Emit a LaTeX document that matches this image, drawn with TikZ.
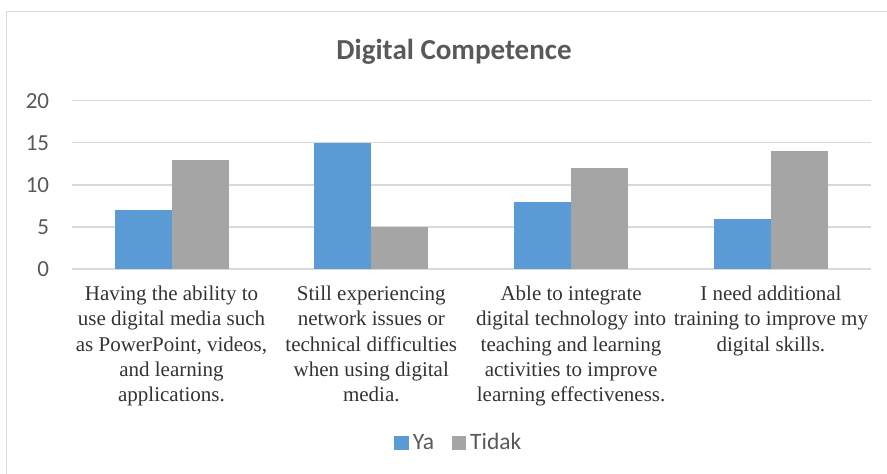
\documentclass[tikz,border=0pt]{standalone}
\usepackage{fontspec}
\setmainfont{Liberation Serif}
\newfontfamily\calibri{Carlito}
\usepackage{tikz}
\definecolor{yablue}{HTML}{5B9BD5}
\definecolor{tidakgray}{HTML}{A5A5A5}
\definecolor{gridgray}{HTML}{D9D9D9}
\definecolor{textgray}{HTML}{595959}
\def\valuebar[#1](#2)(#3){\fill[#1] (#2, 269) rectangle ({#2+57}, {269-#3*8.415});}
\tikzset{
  gridline/.style={line width=1.3pt, color=gridgray},
  ticklabel/.style={font=\calibri\fontsize{23}{27}\selectfont, color=textgray, anchor=east, inner sep=0pt},
  catlabel/.style={font=\fontsize{21}{25.4}\selectfont, color=black!80, align=center, anchor=north, inner sep=0pt},
  legendlabel/.style={font=\calibri\fontsize{23.5}{27}\selectfont, color=textgray, anchor=base west, inner sep=0pt}
}

\begin{document}
\begin{tikzpicture}[x=1pt, y=-1pt]
			%%%%% START %%%%%
			\useasboundingbox (0, 0) rectangle (887, 474);
			
			\draw[line width=1.5pt, color=gridgray] (6.5, 480) -- (6.5, 11.5) -- (895, 11.5);
			
			\node[font=\calibri\bfseries\fontsize{29}{34}\selectfont, color=textgray, anchor=base, inner sep=0pt] (title) at (454, 59.7) {Digital Competence};
			
			\draw[gridline] (71.6, 100.7) -- (870.8, 100.7);
			\draw[gridline] (71.6, 142.8) -- (870.8, 142.8);
			\draw[gridline] (71.6, 184.9) -- (870.8, 184.9);
			\draw[gridline] (71.6, 226.9) -- (870.8, 226.9);
			\draw[gridline] (71.6, 269) -- (870.8, 269);
			
			\node[ticklabel] (t20) at (49.3, 100.7) {20};
			\node[ticklabel] (t15) at (49.3, 142.8) {15};
			\node[ticklabel] (t10) at (49.3, 184.9) {10};
			\node[ticklabel] (t5) at (49.3, 226.9) {5};
			\node[ticklabel] (t0) at (49.3, 269) {0};
			
			\valuebar[yablue](114.5)(7);
			\valuebar[tidakgray](171.5)(13);
			
			\valuebar[yablue](314.3)(15);
			\valuebar[tidakgray](371.3)(5);
			
			\valuebar[yablue](514.1)(8);
			\valuebar[tidakgray](571.1)(12);
			
			\valuebar[yablue](713.9)(6);
			\valuebar[tidakgray](770.9)(14);
			
			\node[catlabel] (abilitylabel) at (171.5, 285.5) {Having the ability to\\use digital media such\\as PowerPoint, videos,\\and learning\\applications.};
			\node[catlabel] (networklabel) at (371.3, 285.5) {Still experiencing\\network issues or\\technical difficulties\\when using digital\\media.};
			\node[catlabel] (integratelabel) at (571.1, 285.5) {Able to integrate\\digital technology into\\teaching and learning\\activities to improve\\learning effectiveness.};
			\node[catlabel] (traininglabel) at (770.9, 285.5) {I need additional\\training to improve my\\digital skills.};
			
			\fill[yablue] (394.3, 436) rectangle (409, 449.7);
			\node[legendlabel] (yalegend) at (412.7, 449.3) {Ya};
			\fill[tidakgray] (451.7, 436) rectangle (465.7, 449.7);
			\node[legendlabel] (tidaklegend) at (470, 449.3) {Tidak};
			
			%%%%% END %%%%%
\end{tikzpicture}
\end{document}
